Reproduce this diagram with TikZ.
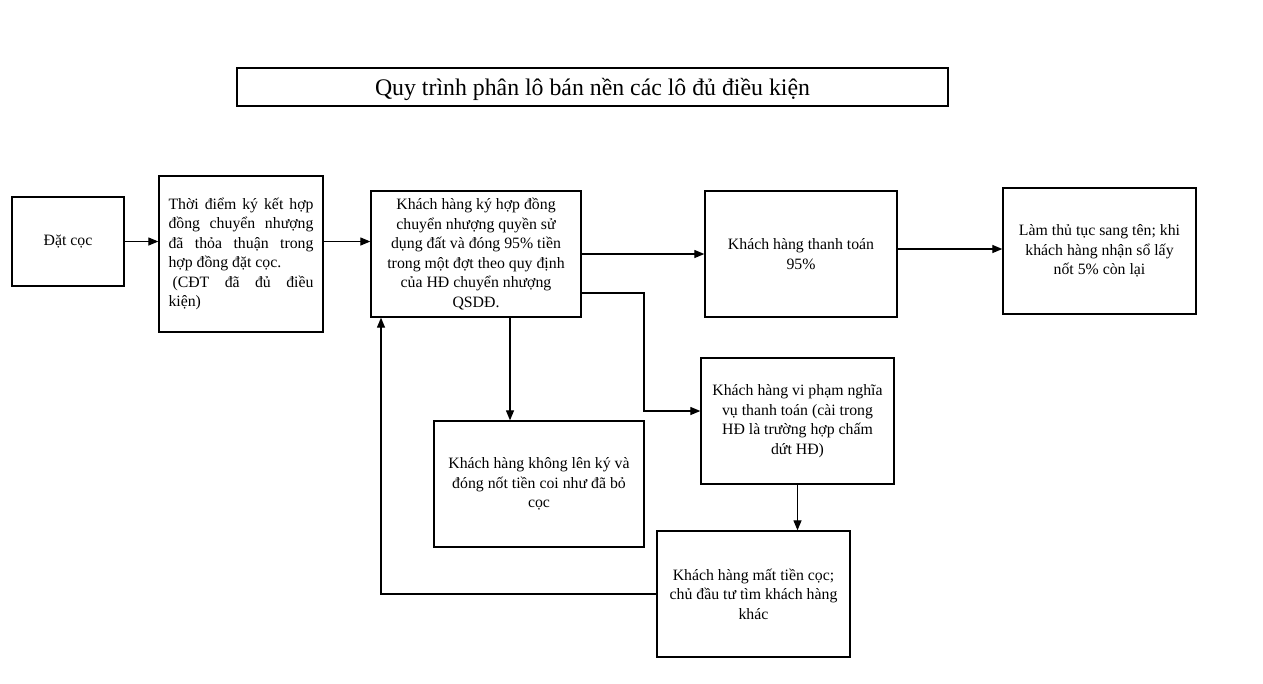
\documentclass[tikz,border=0pt]{standalone}
\usepackage{fontspec}
\setmainfont{Liberation Serif}
\usetikzlibrary{arrows.meta}
\tikzset{
  box/.style={draw, line width=1.3pt, inner sep=0pt, align=center,
    font=\fontsize{15.8}{19.5}\selectfont},
  arr/.style={line width=1.2pt, -{Triangle[length=10pt,width=8pt]}},
}
\newcommand{\jline}[1]{\makebox[145pt][s]{#1}}
\newcommand{\lline}[1]{\makebox[145pt][l]{#1}}
\begin{document}
\begin{tikzpicture}[x=1pt,y=-1pt]
\useasboundingbox (0,0) rectangle (1263,683);
\node[box, minimum width=711pt, minimum height=38pt] (title) at (592.5,87) {};
\node[font=\fontsize{23.8}{26}\selectfont, inner sep=0pt] (titletext) at (592.5,89) {Quy trình phân lô bán nền các lô đủ điều kiện};
\node[box, minimum width=112pt, minimum height=89pt] (datcoc) at (68,241.5) {Đặt cọc};
\node[box, minimum width=164pt, minimum height=156pt, align=left] (thoidiem) at (241,254) {\jline{Thời điểm ký kết hợp}\\\jline{đồng chuyển nhượng}\\\jline{đã thỏa thuận trong}\\\lline{hợp đồng đặt cọc.}\\\jline{\hspace*{4pt}(CĐT đã đủ điều}\\\lline{kiện)}};
\node[box, minimum width=210pt, minimum height=126pt] (ky) at (476,254) {Khách hàng ký hợp đồng\\chuyển nhượng quyền sử\\dụng đất và đóng 95\% tiền\\trong một đợt theo quy định\\của HĐ chuyển nhượng\\QSDĐ.};
\node[box, minimum width=192pt, minimum height=126pt] (tt) at (801,254) {Khách hàng thanh toán\\95\%};
\node[box, minimum width=193pt, minimum height=126pt] (lam) at (1099.5,251) {Làm thủ tục sang tên; khi\\khách hàng nhận sổ lấy\\nốt 5\% còn lại};
\node[box, minimum width=193pt, minimum height=126pt] (vp) at (797.5,421) {Khách hàng vi phạm nghĩa\\vụ thanh toán (cài trong\\HĐ là trường hợp chấm\\dứt HĐ)};
\node[box, minimum width=210pt, minimum height=126pt] (khong) at (539,484) {Khách hàng không lên ký và\\đóng nốt tiền coi như đã bỏ\\cọc};
\node[box, minimum width=193pt, minimum height=126pt] (mat) at (753.5,594) {Khách hàng mất tiền cọc;\\chủ đầu tư tìm khách hàng\\khác};
\coordinate (c1) at (644,0);
\coordinate (c2) at (510,0);
\coordinate (c3) at (381,0);
\draw[arr] (datcoc.east) -- (datcoc.east -| thoidiem.west);
\draw[arr] (thoidiem.east |- datcoc.east) -- (ky.west |- datcoc.east);
\draw[arr] (ky.east) -- (tt.west);
\draw[arr] ([yshift=5pt]tt.east) -- ([yshift=5pt]tt.east -| lam.west);
\draw[arr] ([yshift=-39pt]ky.east) -- ([yshift=-39pt]ky.east -| c1) |- ([yshift=10pt]vp.west);
\draw[arr] (ky.south -| c2) -- (khong.north -| c2);
\draw[arr] (vp.south) -- (vp.south |- mat.north);
\draw[arr] (mat.west) -| (c3 |- ky.south);
\end{tikzpicture}
\end{document}
